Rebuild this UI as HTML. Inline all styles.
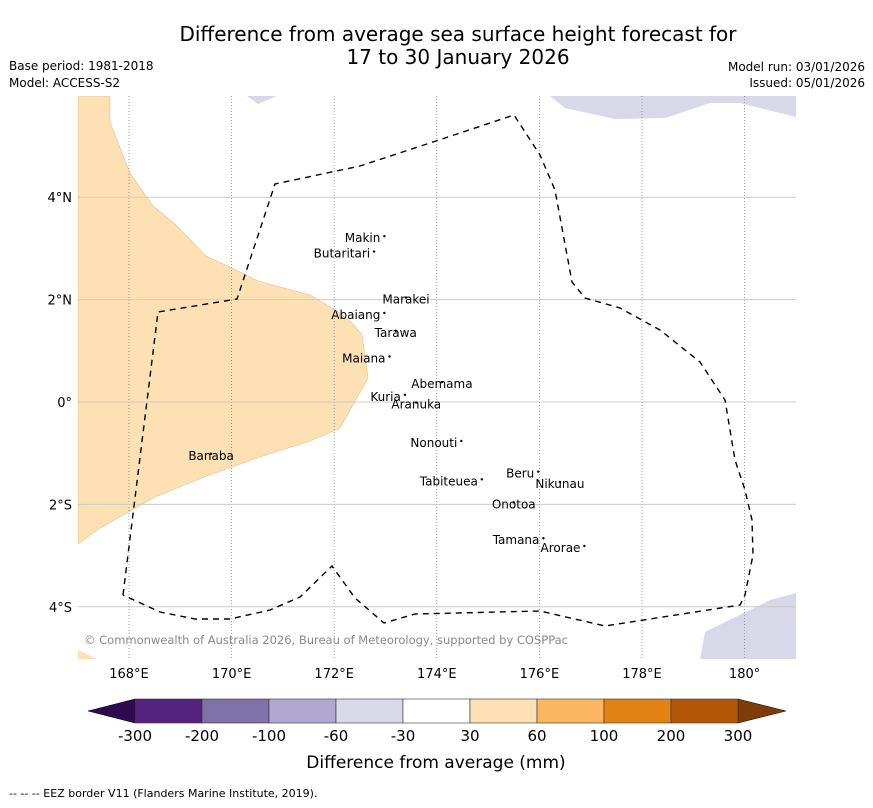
<!DOCTYPE html>
<html><head><meta charset="utf-8"><style>
body{margin:0;background:#fff;font-family:"DejaVu Sans","Liberation Sans",sans-serif;}
svg text{font-family:"DejaVu Sans","Liberation Sans",sans-serif;}
</style></head><body>
<svg width="873" height="804" viewBox="0 0 873 804" xmlns="http://www.w3.org/2000/svg">
<text x="458" y="41" font-size="20" text-anchor="middle">Difference from average sea surface height forecast for</text>
<text x="458" y="64" font-size="20" text-anchor="middle">17 to 30 January 2026</text>
<text x="9" y="70" font-size="12">Base period: 1981-2018</text>
<text x="9" y="87" font-size="12">Model: ACCESS-S2</text>
<text x="865" y="71" font-size="12" text-anchor="end">Model run: 03/01/2026</text>
<text x="865" y="87" font-size="12" text-anchor="end">Issued: 05/01/2026</text>
<defs><clipPath id="mc"><rect x="78" y="96" width="718" height="563"/></clipPath></defs>
<g id="map" clip-path="url(#mc)"></g>
<text x="84" y="644" font-size="11.5" fill="#888" textLength="484">© Commonwealth of Australia 2026, Bureau of Meteorology, supported by COSPPac</text>
<g id="xt"></g>
<g id="yt"></g>
<g id="cb"></g>
<text x="436" y="768" font-size="17" text-anchor="middle">Difference from average (mm)</text>
<text x="9" y="797" font-size="11">-- -- -- EEZ border V11 (Flanders Marine Institute, 2019).</text>
</svg>
<script>
const NS="http://www.w3.org/2000/svg";
const lonTicks=[168,170,172,174,176,178,180];
const lonLabels=["168°E","170°E","172°E","174°E","176°E","178°E","180°"];
const latTicks=[4,2,0,-2,-4];
const latLabels=["4°N","2°N","0°","2°S","4°S"];
const cbLevels=["-300","-200","-100","-60","-30","30","60","100","200","300"];
const cbColors=["#54237f","#7f71a9","#b0a8d0","#d8d8e9","#ffffff","#fde0b4","#fcb660","#e28214","#b35707"];
const islands=[["Makin",172.9,3.2,"end"],["Butaritari",172.7,2.9,"end"],["Marakei",173.4,2.0,"middle"],["Abaiang",172.9,1.7,"end"],["Tarawa",173.2,1.35,"middle"],["Maiana",173.0,0.85,"end"],["Abemama",174.1,0.35,"middle"],["Kuria",173.3,0.1,"end"],["Aranuka",173.6,-0.05,"middle"],["Nonouti",174.4,-0.8,"end"],["Banaba",169.6,-1.05,"middle"],["Beru",175.9,-1.4,"end"],["Nikunau",176.4,-1.6,"middle"],["Tabiteuea",174.8,-1.55,"end"],["Onotoa",175.5,-2.0,"middle"],["Tamana",176.0,-2.7,"end"],["Arorae",176.8,-2.85,"end"]];
const x=lon=>129+(lon-168)*51.3, y=lat=>402-lat*51.2;
function el(t,a,p){const e=document.createElementNS(NS,t);for(const k in a)e.setAttribute(k,a[k]);p.appendChild(e);return e;}
const map=document.getElementById('map');
el('rect',{x:78,y:96,width:718,height:563,fill:'#fff'},map);
const orange="78,96 110,96 110,122 130,173 153,206 175,224 206,256 232,268 258,281 310,295 337,311 352,323 362,335 368,378 340,428 310,441 260,457 207,476 155,497 100,528 78,544";
let p=el('polygon',{points:orange,fill:'#fde0b4',stroke:'#e8c08a','stroke-width':0.6},map);

el('polygon',{points:"78,650 97,659 78,659",fill:'#fde0b4'},map);
[["247,96 258,104 277,96"],["550,96 565,108 615,119 665,118 710,103 740,103 796,117 796,96"],["705,632 700,659 796,659 796,593 770,600"]].forEach(s=>{
 const q=el('polygon',{points:s[0],fill:'#d8d8e9'},map);
 });
lonTicks.forEach(l=>el('line',{x1:x(l),x2:x(l),y1:96,y2:659,stroke:'#888','stroke-width':0.8,'stroke-dasharray':'1,2'},map));
latTicks.forEach(l=>el('line',{x1:78,x2:796,y1:y(l),y2:y(l),stroke:'#ccc','stroke-width':1},map));
const eez="123,595 158,312 237,299 275,184 360,166 436,141 514,115 540,155 555,190 572,282 585,298 620,308 660,330 700,362 725,400 735,460 745,490 752,520 753,555 745,595 740,605 605,626 540,611 415,614 384,623 355,598 332,566 300,597 270,610 230,619 195,619 160,612 123,595";
const e=el('polyline',{points:eez,fill:'none',stroke:'#000','stroke-width':1.4,'stroke-dasharray':'6,5'},map);

islands.forEach(d=>{const t=el('text',{x:x(d[1]),y:y(d[2])+4,'font-size':12,'text-anchor':d[3]},map);t.textContent=d[0];
 
 el('circle',{cx:x(d[1])+(d[3]=='end'?4:0),cy:y(d[2])-2,r:1.2,fill:'#000'},map);});
const xt=document.getElementById('xt');
lonTicks.forEach((l,i)=>{const t=el('text',{x:x(l),y:678,'font-size':13,'text-anchor':'middle'},xt);t.textContent=lonLabels[i];
 });
const yt=document.getElementById('yt');
latTicks.forEach((l,i)=>{const t=el('text',{x:72,y:y(l)+5,'font-size':13,'text-anchor':'end'},yt);t.textContent=latLabels[i];
 });
const cb=document.getElementById('cb');
const cx0=135,cw=(738-135)/cbColors.length,cy0=699,ch=24;
el('polygon',{points:`88,711 ${cx0},${cy0} ${cx0},${cy0+ch}`,fill:'#2d0a4e',stroke:'#000','stroke-width':0.5},cb);
el('polygon',{points:`786,711 738,${cy0} 738,${cy0+ch}`,fill:'#7f3b08',stroke:'#000','stroke-width':0.5},cb);
cbColors.forEach((c,i)=>{const r=el('rect',{x:cx0+i*cw,y:cy0,width:cw,height:ch,fill:c,stroke:'#333','stroke-width':0.6},cb);
 });
cbLevels.forEach((s,i)=>{const t=el('text',{x:cx0+i*cw,y:741,'font-size':15,'text-anchor':'middle'},cb);t.textContent=s;
 });
</script>
</body></html>
